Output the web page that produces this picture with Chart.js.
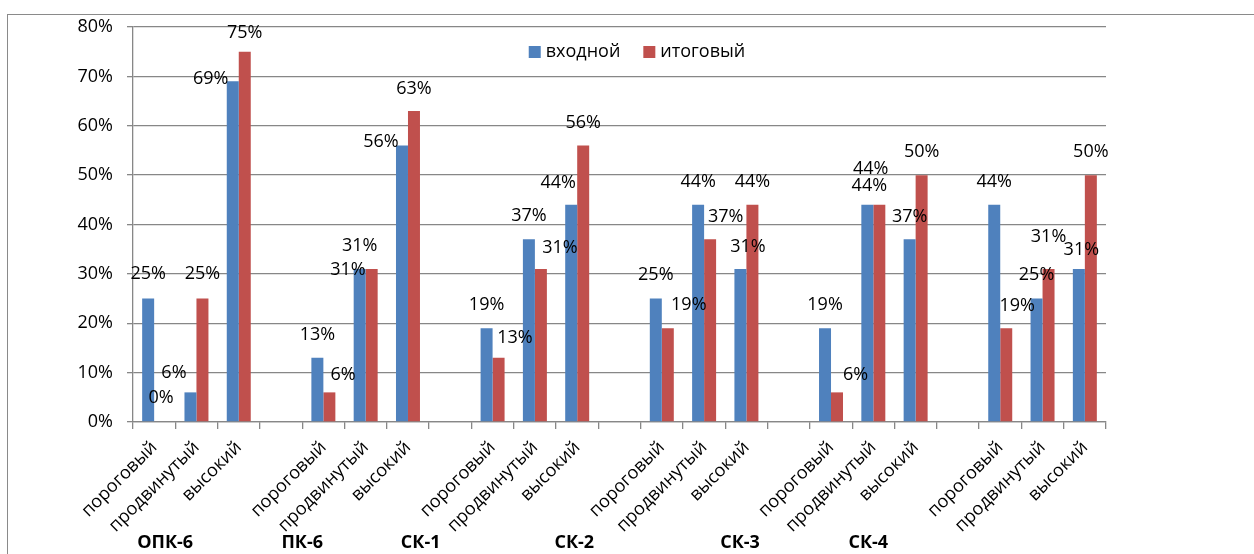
<!DOCTYPE html>
<html>
<head>
<meta charset="utf-8">
<title>Уровни сформированности компетенций</title>
<script src="https://cdn.jsdelivr.net/npm/chart.js@4.4.0/dist/chart.umd.min.js"></script>
<style>
  html, body { margin: 0; padding: 0; background: #fff; }
  #wrap { position: relative; width: 1254px; height: 554px; overflow: hidden; }
  #frame { position: absolute; left: 7px; top: 14px; width: 1400px; height: 700px; border: 1.5px solid #8a8a8a; }
  #chart { position: absolute; left: 0; top: 0; }
</style>
</head>
<body>
<div id="wrap">
  <div id="frame"></div>
  <canvas id="chart" width="1254" height="554"></canvas>
</div>
<script>
const groups = ['ОПК-6', 'ПК-6', 'СК-1', 'СК-2', 'СК-3', 'СК-4'];
const levels = ['пороговый', 'продвинутый', 'высокий'];
const seriesNames = ['входной', 'итоговый'];
const entryValues = [25, 6, 69, 13, 31, 56, 19, 37, 44, 25, 44, 31, 19, 44, 37, 44, 25, 31];
const finalValues = [0, 25, 75, 6, 31, 63, 13, 31, 56, 19, 37, 44, 6, 44, 50, 19, 31, 50];
const yTicks = [0, 10, 20, 30, 40, 50, 60, 70, 80];

// where the group captions sit, in category units (as in the original sheet)
const groupLabelAt = [0.26, 3.5, 6.3, 9.93, 13.85, 16.88];

// label nudges [dx, dy] from the top centre of each bar
const entryLabelShift = [
  [0, -24.5], [-16.5, -20], [-22, -2],
  [0, -23], [0, -23], [-21, -4],
  [0, -23], [0, -23], [-13, -21.5],
  [0, -23.7], [0, -23], [7.6, -22],
  [0, -23], [3.4, -35.4], [0, -22.6],
  [0, -23], [0, -23.7], [2.5, -19]
];
const finalLabelShift = [
  [1, -24], [0, -24.7], [0, -18.4],
  [13.6, -17.6], [-23.7, 1], [0, -22],
  [16.4, -19.5], [19, -21], [0, -23],
  [21, -23], [15.6, -22.6], [0, -23],
  [18.5, -17.6], [-10, -18.7], [0, -23.3],
  [11, -22.3], [0, -32], [0, -23.3]
];

const FONT = '"Open Sans", "Liberation Sans", sans-serif';
const GRID = '#878787';

// build slots with an empty one between groups
const slotLabels = [];
const slotEntry = [];
const slotFinal = [];
const slotIndex = [];
groups.forEach(function(g, gi) {
  if (gi > 0) {
    slotLabels.push('');
    slotEntry.push(null);
    slotFinal.push(null);
    slotIndex.push(-1);
  }
  levels.forEach(function(l, li) {
    const k = gi * levels.length + li;
    slotLabels.push(l);
    slotEntry.push(entryValues[k]);
    slotFinal.push(finalValues[k]);
    slotIndex.push(k);
  });
});

const valueLabels = {
  id: 'valueLabels',
  afterDatasetsDraw(chart) {
    const ctx = chart.ctx;
    const shifts = [entryLabelShift, finalLabelShift];
    ctx.save();
    ctx.font = '18px ' + FONT;
    ctx.fillStyle = '#000';
    ctx.textAlign = 'center';
    ctx.textBaseline = 'middle';
    chart.data.datasets.forEach(function(ds, di) {
      const meta = chart.getDatasetMeta(di);
      meta.data.forEach(function(bar, j) {
        const v = ds.data[j];
        if (v === null) return;
        const s = shifts[di][slotIndex[j]];
        ctx.fillText(v + '%', bar.x + s[0], bar.y + s[1]);
      });
    });
    ctx.restore();
  }
};

const groupCaptions = {
  id: 'groupCaptions',
  afterDraw(chart) {
    const ctx = chart.ctx;
    const xs = chart.scales.x;
    ctx.save();
    ctx.font = 'bold 18px ' + FONT;
    ctx.fillStyle = '#000';
    ctx.textAlign = 'center';
    ctx.textBaseline = 'middle';
    groups.forEach(function(g, i) {
      ctx.fillText(g, xs.getPixelForValue(groupLabelAt[i]), 543);
    });
    ctx.restore();
  }
};

// legend sits inside the plot, centred near the top
const insideLegend = {
  id: 'insideLegend',
  afterDraw(chart) {
    const ctx = chart.ctx;
    const box = 12, gapText = 5, gapItem = 23;
    ctx.save();
    ctx.font = '18px ' + FONT;
    ctx.textBaseline = 'middle';
    ctx.textAlign = 'left';
    const items = chart.data.datasets.map(function(ds) {
      return { text: ds.label, color: ds.backgroundColor, w: ctx.measureText(ds.label).width };
    });
    let total = 0;
    items.forEach(function(it, i) {
      total += box + gapText + it.w + (i > 0 ? gapItem : 0);
    });
    let x = 637 - total / 2;
    const y = 52;
    items.forEach(function(it) {
      ctx.fillStyle = it.color;
      ctx.fillRect(x, y - box / 2, box, box);
      ctx.fillStyle = '#000';
      ctx.fillText(it.text, x + box + gapText, y);
      x += box + gapText + it.w + gapItem;
    });
    ctx.restore();
  }
};

new Chart(document.getElementById('chart'), {
  type: 'bar',
  data: {
    labels: slotLabels,
    datasets: [
      { label: seriesNames[0], data: slotEntry, backgroundColor: '#4F81BD', borderWidth: 0 },
      { label: seriesNames[1], data: slotFinal, backgroundColor: '#C0504D', borderWidth: 0 }
    ]
  },
  options: {
    responsive: false,
    animation: false,
    categoryPercentage: 0.567,
    barPercentage: 1.0,
    layout: { padding: { left: 60, top: 27, right: 148, bottom: 0 } },
    plugins: {
      legend: { display: false },
      tooltip: { enabled: false }
    },
    scales: {
      x: {
        afterFit: function(s) { s.height = 132; },
        grid: { drawOnChartArea: false, drawTicks: true, tickLength: 7, color: GRID, lineWidth: 1.3 },
        border: { color: GRID, width: 1.3 },
        ticks: {
          autoSkip: false,
          minRotation: 45,
          maxRotation: 45,
          padding: 8,
          color: '#000',
          font: { family: FONT, size: 18 }
        }
      },
      y: {
        min: 0,
        max: 80,
        afterFit: function(s) { s.width = 73; },
        afterBuildTicks: function(s) { s.ticks = yTicks.map(function(v) { return { value: v }; }); },
        grid: { color: GRID, lineWidth: 1.3, tickLength: 6 },
        border: { color: GRID, width: 1.3 },
        ticks: {
          padding: 14,
          color: '#000',
          font: { family: FONT, size: 18 },
          callback: function(v) { return v + '%'; }
        }
      }
    }
  },
  plugins: [valueLabels, groupCaptions, insideLegend]
});
</script>
</body>
</html>
